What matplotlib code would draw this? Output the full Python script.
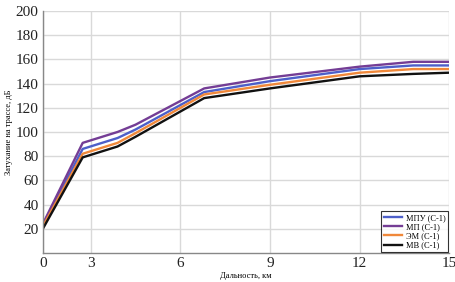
# Attenuation vs distance chart (С-1 series)

import numpy as np
import matplotlib
matplotlib.use('Agg')
import matplotlib.pyplot as plt

# Data
distance = [0, 2.5, 3.9, 4.5, 6.8, 9, 12, 13.8, 15]
mpu = [23, 86, 95, 102, 133, 142, 152, 155, 155]
mp = [24, 91, 100, 106, 136, 145, 154, 158, 158]
em = [22, 82, 91, 99, 131, 139, 149, 152, 152]
mv = [20, 79, 88, 96, 128, 136, 146, 148, 149]

seriesNames = ['МПУ (С-1)', 'МП (С-1)', 'ЭМ (С-1)', 'МВ (С-1)']
seriesColors = ['#4d5fc9', '#743d95', '#f0883a', '#111111']
xTicks = [0, 3, 6, 9, 12, 15]
yTicks = [20, 40, 60, 80, 100, 120, 140, 160, 180, 200]

# The original axis squeezes the 0..3 segment
def fwd(x):
    x = np.asarray(x, dtype=float)
    return np.where(x < 3, 1.4 + x * 1.6 / 3, x)

def inv(v):
    v = np.asarray(v, dtype=float)
    return np.where(v < 3, (v - 1.4) * 3 / 1.6, v)

plt.rcParams['font.family'] = ['Liberation Serif', 'DejaVu Serif']

fig = plt.figure(figsize = (4.56, 2.82), dpi = 100)
ax = fig.add_axes([0.094, 0.103, 0.891, 0.858])
ax.set_xscale('function', functions = (fwd, inv))

for vals, name, col in zip([mpu, mp, em, mv], seriesNames, seriesColors):
    ax.plot(distance, vals, color = col, linewidth = 1.7, label = name)

ax.set_xlim(0, 15)
ax.set_ylim(0, 200)
ax.set_xticks(xTicks)
ax.set_xticklabels([str(t) for t in xTicks])
ax.set_yticks(yTicks)
ax.tick_params(length = 0, labelsize = 11, pad = 3, colors = '#222222')

ax.grid(color = '#d9d9d9', linewidth = 1)
ax.set_axisbelow(True)
for side in ['top', 'right']:
    ax.spines[side].set_visible(False)
for side in ['left', 'bottom']:
    ax.spines[side].set_color('#888888')
    ax.spines[side].set_linewidth(1)

ax.set_xlabel('Дальность, км', fontsize = 6, labelpad = 1)
ax.set_ylabel('Затухание на трассе, дБ', fontsize = 6, labelpad = 2)

leg = ax.legend(loc = 'lower right', fontsize = 6, frameon = True, fancybox = False,
                edgecolor = 'black', borderpad = 0.3, labelspacing = 0.15,
                handlelength = 2.2, handletextpad = 0.5, borderaxespad = 0.1)
leg.get_frame().set_linewidth(0.8)

fig.savefig('out.png', dpi = 100)
